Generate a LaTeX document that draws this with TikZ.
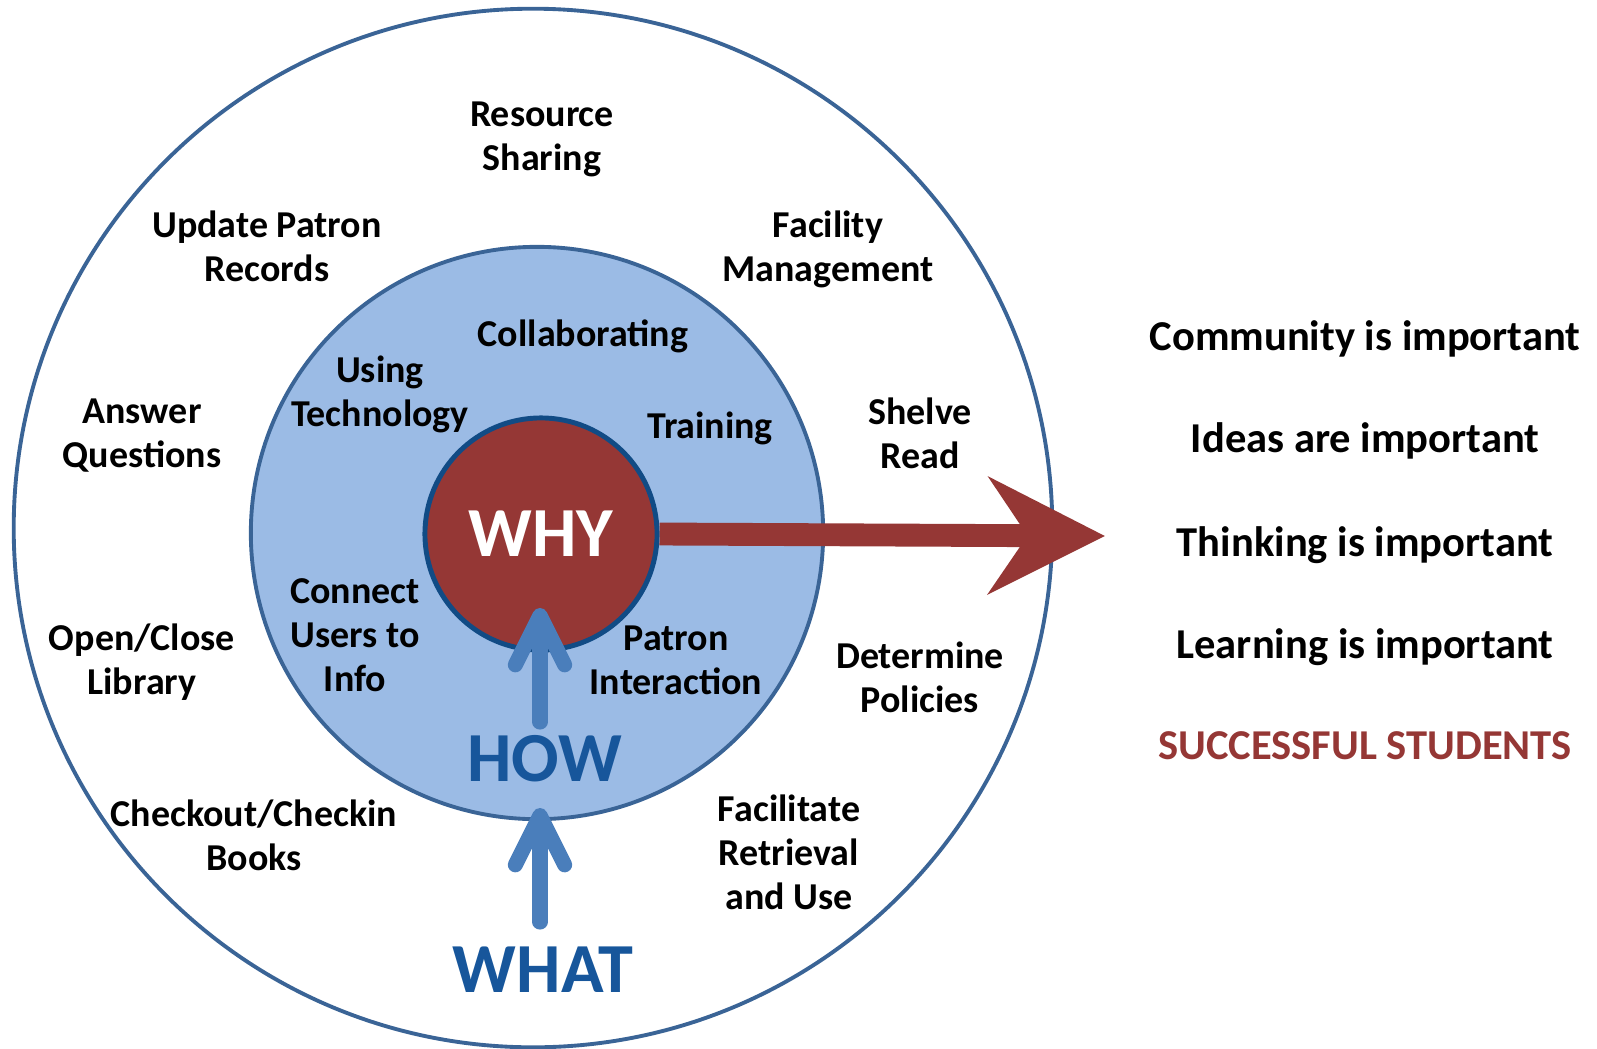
\documentclass[tikz,border=0pt]{standalone}
\usepackage{fontspec}
\setmainfont{Carlito}
\usetikzlibrary{arrows.meta}
\definecolor{whyred}{HTML}{953735}
\definecolor{ringblue}{HTML}{3A6496}
\definecolor{coreblue}{HTML}{114B85}
\definecolor{howfill}{HTML}{9BBBE5}
\definecolor{arrowblue}{HTML}{4A7EBB}
\definecolor{wordblue}{HTML}{17569B}
\tikzset{
  lbl/.style={align=center, inner sep=1pt},
  bigword/.style={font=\bfseries\fontsize{20}{24}\selectfont},
  goal/.style={font=\bfseries\fontsize{12.1}{15}\selectfont},
  howarrow/.style={draw=arrowblue, line width=4.3pt, -{Straight Barb[length=14pt, width=14pt, round]}},
  whyarrow/.style={draw=whyred, line width=6.5pt, line cap=butt, -{Stealth[length=33pt, width=33pt, inset=11pt]}}
}
\begin{document}
\begin{tikzpicture}[x=0.01cm, y=-0.01cm, line join=round, line cap=round, font=\bfseries\fontsize{10.8}{12.5}\selectfont]
  \useasboundingbox (0,0) rectangle (1597,1048);
  % rings
  \node[circle, draw=ringblue, line width=1.1pt, minimum size=10.38cm] (what) at (533,528) {};
  \node[circle, draw=ringblue, fill=howfill, line width=1.1pt, minimum size=5.72cm] (how) at (537,533) {};
  % outer ring: what
  \node[lbl] (sharing) at (542,139) {Resource\\Sharing};
  \node[lbl] (records) at (267,246) {Update Patron\\Records};
  \node[lbl] (facility) at (828,249) {Facility\\Management};
  \node[lbl] (answer) at (142,436) {Answer\\Questions};
  \node[lbl] (shelve) at (920,433) {Shelve\\Read};
  \node[lbl] (openclose) at (142,662) {Open/Close\\Library};
  \node[lbl] (policies) at (920,677) {Determine\\Policies};
  \node[lbl] (checkout) at (254,835) {Checkout/Checkin\\Books};
  \node[lbl] (retrieval) at (789,852) {Facilitate\\Retrieval\\and Use};
  % middle ring: how
  \node[lbl] (collab) at (583,336) {Collaborating};
  \node[lbl] (tech) at (380,394) {Using\\Technology};
  \node[lbl] (training) at (710,428) {Training};
  \node[lbl] (connect) at (355,635) {Connect\\Users to\\Info};
  \node[lbl] (patron) at (676,660) {Patron\\Interaction};
  % core
  \node[circle, draw=coreblue, fill=whyred, line width=1.4pt, minimum size=2.32cm, text=white, bigword] (why) at (541,534) {WHY};
  \node[bigword, text=wordblue] (howword) at (545,759) {HOW};
  \node[bigword, text=wordblue] (whatword) at (543,970) {WHAT};
  % arrows
  \coordinate (goalpt) at (1105,536);
  \draw[whyarrow] (why.east) -- (goalpt);
  \coordinate (howtail) at (540,722);
  \coordinate (howtip) at (540,608);
  \coordinate (whattail) at (540,922);
  \coordinate (whattip) at (540,808);
  \draw[howarrow] (howtail) -- (howtip);
  \draw[howarrow] (whattail) -- (whattip);
  % beliefs
  \node[goal] (community) at (1365,339) {Community is important};
  \node[goal] (ideas) at (1365,441) {Ideas are important};
  \node[goal] (thinking) at (1365,545) {Thinking is important};
  \node[goal] (learning) at (1365,647) {Learning is important};
  \node[goal, text=whyred] (students) at (1365,746) {SUCCESSFUL STUDENTS};
\end{tikzpicture}
\end{document}
